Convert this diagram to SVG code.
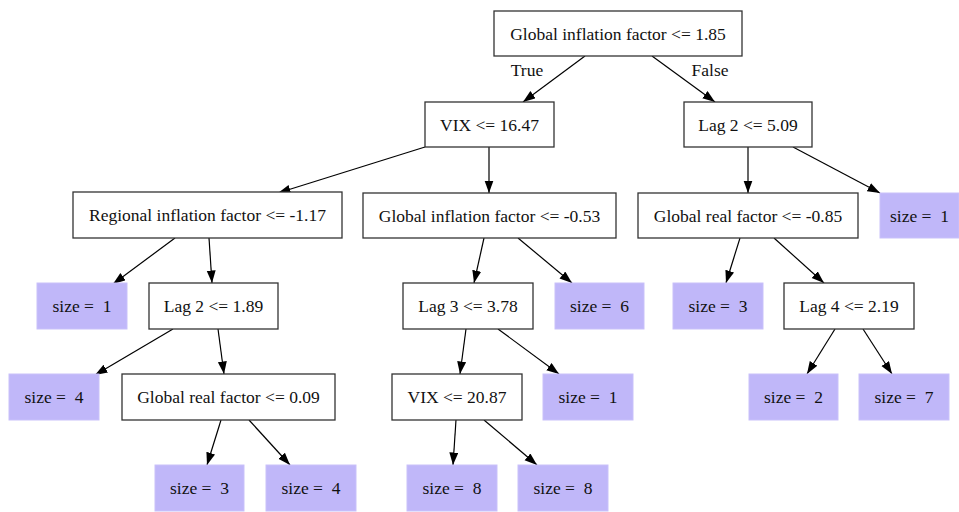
<svg xmlns="http://www.w3.org/2000/svg" width="959" height="512" viewBox="0 0 959 512">
<style>
.n rect{fill:#fff;stroke:#333;stroke-width:1.3}
.l rect{fill:#c0b7f9;stroke:#c9c1fa;stroke-width:1}
text{font-family:"Liberation Serif","Times New Roman",serif;font-size:17.5px;fill:#111;text-anchor:middle;white-space:pre}
#edges line{stroke:#000;stroke-width:1.2;marker-end:url(#ah)}
</style>
<defs>
<marker id="ah" markerUnits="userSpaceOnUse" markerWidth="13" markerHeight="10" refX="12.5" refY="4.5" orient="auto">
<path d="M0,0 L12.5,4.5 L0,9 z" fill="#000"/>
</marker>
</defs>
<rect width="959" height="512" fill="#fff"/>
<g id="edges">
<line x1="585" y1="56" x2="523" y2="102"/>
<line x1="652" y1="56" x2="715" y2="102"/>
<line x1="425" y1="147" x2="278" y2="193"/>
<line x1="489" y1="147" x2="489" y2="193"/>
<line x1="748" y1="147" x2="748" y2="193"/>
<line x1="793" y1="147" x2="880" y2="193"/>
<line x1="175" y1="238" x2="113" y2="284"/>
<line x1="209" y1="238" x2="212" y2="283"/>
<line x1="484" y1="238" x2="474" y2="283"/>
<line x1="518" y1="238" x2="572" y2="283"/>
<line x1="740" y1="238" x2="726" y2="283"/>
<line x1="774" y1="238" x2="824" y2="283"/>
<line x1="173" y1="329" x2="95" y2="375"/>
<line x1="218" y1="329" x2="224" y2="374"/>
<line x1="466" y1="329" x2="460" y2="374"/>
<line x1="498" y1="329" x2="559" y2="374"/>
<line x1="835" y1="329" x2="807" y2="374"/>
<line x1="863" y1="329" x2="892" y2="374"/>
<line x1="221" y1="420" x2="207" y2="465"/>
<line x1="249" y1="420" x2="290" y2="465"/>
<line x1="456" y1="420" x2="453" y2="465"/>
<line x1="484" y1="420" x2="537" y2="465"/>
</g>
<text x="527" y="76">True</text>
<text x="710" y="76">False</text>
<g id="root" class="n"><rect x="494" y="11" width="248" height="45"/><text x="618" y="39.5">Global inflation factor &lt;= 1.85</text></g>
<g id="vix1" class="n"><rect x="425" y="102" width="129" height="45"/><text x="489.5" y="130.5">VIX &lt;= 16.47</text></g>
<g id="lag2a" class="n"><rect x="684" y="102" width="128" height="45"/><text x="748" y="130.5">Lag 2 &lt;= 5.09</text></g>
<g id="reg" class="n"><rect x="73" y="192" width="269" height="46"/><text x="207.5" y="221">Regional inflation factor &lt;= -1.17</text></g>
<g id="gin" class="n"><rect x="363" y="193" width="253" height="45"/><text x="489.5" y="221.5">Global inflation factor &lt;= -0.53</text></g>
<g id="grf1" class="n"><rect x="638" y="193" width="220" height="45"/><text x="748" y="221.5">Global real factor &lt;= -0.85</text></g>
<g id="leafR1" class="l"><rect x="880" y="193" width="79" height="45"/><text x="919.5" y="221.5">size =  1</text></g>
<g id="leafA" class="l"><rect x="37" y="283" width="90" height="46"/><text x="82" y="312">size =  1</text></g>
<g id="lag2b" class="n"><rect x="149" y="283" width="129" height="46"/><text x="213.5" y="312">Lag 2 &lt;= 1.89</text></g>
<g id="lag3" class="n"><rect x="403" y="283" width="130" height="46"/><text x="468" y="312">Lag 3 &lt;= 3.78</text></g>
<g id="leaf6" class="l"><rect x="555" y="283" width="89" height="46"/><text x="599.5" y="312">size =  6</text></g>
<g id="leaf3r" class="l"><rect x="673" y="283" width="90" height="46"/><text x="718" y="312">size =  3</text></g>
<g id="lag4" class="n"><rect x="784" y="283" width="130" height="46"/><text x="849" y="312">Lag 4 &lt;= 2.19</text></g>
<g id="leaf4" class="l"><rect x="9" y="374" width="90" height="46"/><text x="54" y="403">size =  4</text></g>
<g id="grf2" class="n"><rect x="122" y="374" width="213" height="46"/><text x="228.5" y="403">Global real factor &lt;= 0.09</text></g>
<g id="vix2" class="n"><rect x="392" y="374" width="130" height="46"/><text x="457" y="403">VIX &lt;= 20.87</text></g>
<g id="leaf1m" class="l"><rect x="543" y="374" width="90" height="46"/><text x="588" y="403">size =  1</text></g>
<g id="leaf2" class="l"><rect x="749" y="374" width="89" height="46"/><text x="793.5" y="403">size =  2</text></g>
<g id="leaf7" class="l"><rect x="859" y="374" width="90" height="46"/><text x="904" y="403">size =  7</text></g>
<g id="leaf3" class="l"><rect x="155" y="465" width="89" height="46"/><text x="199.5" y="494">size =  3</text></g>
<g id="leaf4b" class="l"><rect x="266" y="465" width="90" height="46"/><text x="311" y="494">size =  4</text></g>
<g id="leaf8a" class="l"><rect x="407" y="465" width="90" height="46"/><text x="452" y="494">size =  8</text></g>
<g id="leaf8b" class="l"><rect x="518" y="465" width="90" height="46"/><text x="563" y="494">size =  8</text></g>
</svg>
